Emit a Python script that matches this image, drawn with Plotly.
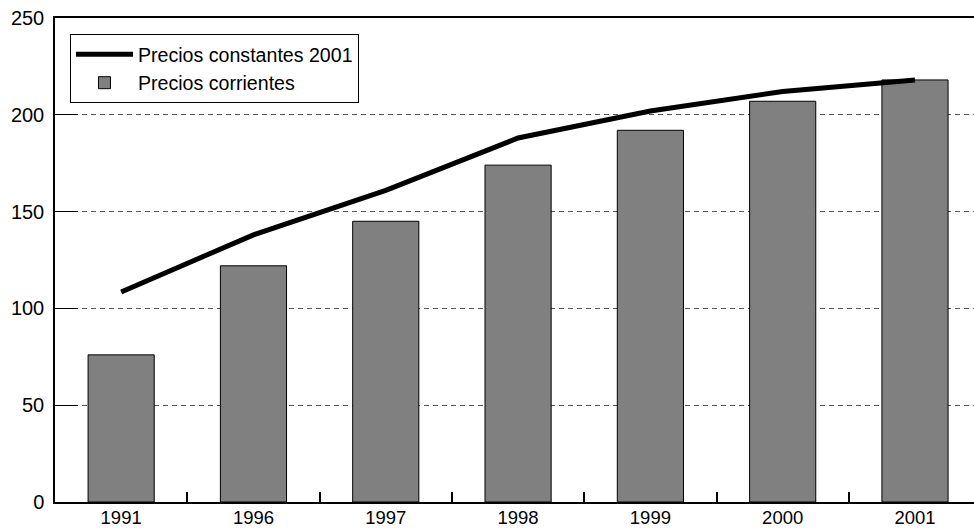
import plotly.graph_objects as go

years = ["1991", "1996", "1997", "1998", "1999", "2000", "2001"]
corrientes = [76, 122, 145, 174, 192, 207, 218]
constantes = [108.5, 138, 161, 188, 202, 212, 218]
y_ticks = [0, 50, 100, 150, 200, 250]

FONT = "Liberation Sans, Arial, Helvetica, sans-serif"

fig = go.Figure()
fig.add_trace(go.Bar(
    x=years, y=corrientes, name="Precios corrientes", width=0.5,
    marker=dict(color="#808080", line=dict(color="#000000", width=1)),
))
fig.add_trace(go.Scatter(
    x=years, y=constantes, name="Precios constantes 2001", mode="lines",
    line=dict(color="#000000", width=5),
))

fig.update_layout(
    width=974, height=529,
    margin=dict(l=55, r=0, t=18, b=27),
    paper_bgcolor="white", plot_bgcolor="white",
    font=dict(family=FONT, size=20, color="#000000"),
    showlegend=True,
    legend=dict(
        x=0.0163, y=0.967, xanchor="left", yanchor="top",
        bordercolor="#000000", borderwidth=1, bgcolor="white",
        traceorder="reversed", font=dict(size=19.6, family=FONT),
        itemwidth=57,
    ),
    bargap=0.5,
)
fig.update_xaxes(
    type="category", range=[-0.5, 6.446], automargin=False,
    showline=True, linecolor="#000000", linewidth=1.5, mirror=True,
    ticks="inside", ticklen=10, tickcolor="#000000", tickwidth=1.5,
    tickson="boundaries", showgrid=False, tickfont=dict(size=18.5),
    ticklabelstandoff=-2,
)
fig.update_yaxes(
    range=[0, 250], tickvals=y_ticks, automargin=False,
    showline=True, linecolor="#000000", linewidth=1.5, mirror=False,
    ticks="inside", ticklen=23, tickcolor="#000000", tickwidth=1,
    showgrid=True, gridcolor="#555555", gridwidth=1, griddash="5px,4px",
    zeroline=False, tickfont=dict(size=20), ticklabelstandoff=5,
)

fig.write_html("out.html")
